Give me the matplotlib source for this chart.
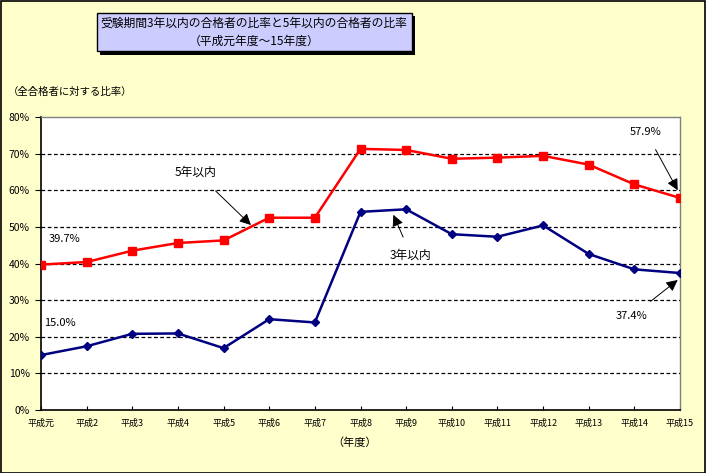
import matplotlib
matplotlib.use("Agg")
import matplotlib.pyplot as plt
from matplotlib.patches import Rectangle

plt.rcParams['font.family'] = ['Noto Sans CJK JP', 'DejaVu Sans']

years = ["平成元", "平成2", "平成3", "平成4", "平成5", "平成6", "平成7", "平成8",
         "平成9", "平成10", "平成11", "平成12", "平成13", "平成14", "平成15"]
within5 = [39.7, 40.4, 43.5, 45.6, 46.3, 52.5, 52.5, 71.3, 71.0, 68.6, 68.9, 69.4, 67.0, 61.6, 57.9]
within3 = [15.0, 17.4, 20.8, 20.9, 16.9, 24.8, 23.9, 54.1, 54.8, 48.0, 47.3, 50.4, 42.6, 38.4, 37.4]
yticks = [0, 10, 20, 30, 40, 50, 60, 70, 80]

W, H = 706, 473
fig = plt.figure(figsize=(W / 100, H / 100), dpi=100)
fig.patch.set_facecolor("#FFFFCC")
fig.patches.append(Rectangle((0.5 / W, 0.5 / H), 1 - 2 / W, 1 - 2 / H, transform=fig.transFigure,
                             fill=False, edgecolor="black", linewidth=1.2))

ax = fig.add_axes([41 / W, 1 - 410 / H, (680 - 41) / W, (410 - 117) / H])
ax.set_facecolor("white")
x = list(range(len(years)))
ax.plot(x, within5, color="#FF0000", linewidth=1.8, marker="s", markersize=5.5, zorder=3)
ax.plot(x, within3, color="#000080", linewidth=1.8, marker="D", markersize=4, zorder=3)

ax.set_xlim(0, len(years) - 1)
ax.set_ylim(0, 80)
ax.set_yticks(yticks)
ax.set_yticklabels([f"{v}%" for v in yticks], fontsize=7.5)
ax.set_xticks(x)
ax.set_xticklabels(years, fontsize=6.5)
ax.tick_params(axis="y", direction="out", length=4, pad=4)
ax.tick_params(axis="x", direction="in", length=3, pad=6)
for v in yticks[1:-1]:
    ax.axhline(v, color="black", linestyle=(0, (3, 2)), linewidth=0.9, zorder=1)
for s in ["left", "bottom"]:
    ax.spines[s].set_color("black")
    ax.spines[s].set_linewidth(1.2)
for s in ["top", "right"]:
    ax.spines[s].set_color("#808080")
    ax.spines[s].set_linewidth(1.0)

def px(xp, yp):
    return (xp / W, 1 - yp / H)

ap = dict(arrowstyle="-|>", color="black", linewidth=0.7, mutation_scale=17)
ax.annotate("5年以内", xy=(4.6, 50.5), xytext=px(196, 172), textcoords="figure fraction",
            fontsize=8.5, ha="center", va="center", arrowprops=dict(ap, shrinkA=10, shrinkB=0))
ax.annotate("3年以内", xy=(7.72, 53.3), xytext=px(411, 255), textcoords="figure fraction",
            fontsize=8.5, ha="center", va="center", arrowprops=dict(ap, shrinkA=8, shrinkB=0),
            bbox=dict(boxstyle="square,pad=0.1", fc="white", ec="none"))
ax.annotate("57.9%", xy=(13.95, 60.0), xytext=px(646, 132), textcoords="figure fraction",
            fontsize=8, ha="center", va="center", arrowprops=dict(ap, shrinkA=8, shrinkB=0))
ax.annotate("37.4%", xy=(13.95, 35.5), xytext=px(632, 316), textcoords="figure fraction",
            fontsize=8, ha="center", va="center", arrowprops=dict(ap, shrinkA=8, shrinkB=0))
fig.text(*px(65, 239), "39.7%", fontsize=8, ha="center", va="center")
fig.text(*px(60, 323), "15.0%", fontsize=8, ha="center", va="center")

# title box with shadow
fig.patches.append(Rectangle((100 / W, 1 - 55 / H), 315 / W, 39 / H, transform=fig.transFigure,
                             facecolor="black", edgecolor="none"))
fig.patches.append(Rectangle((97 / W, 1 - 51 / H), 315 / W, 38 / H, transform=fig.transFigure,
                             facecolor="#CCCCFF", edgecolor="black", linewidth=1.0))
fig.text(*px(254, 23), "受験期間3年以内の合格者の比率と5年以内の合格者の比率", fontsize=8.5,
         ha="center", va="center")
fig.text(*px(254, 41), "（平成元年度～15年度）", fontsize=8.5, ha="center", va="center")

fig.text(*px(8, 92), "（全合格者に対する比率）", fontsize=7.5, ha="left", va="center")
fig.text(*px(355, 443), "（年度）", fontsize=8, ha="center", va="center")

fig.savefig("out.png", dpi=100, facecolor=fig.get_facecolor())
